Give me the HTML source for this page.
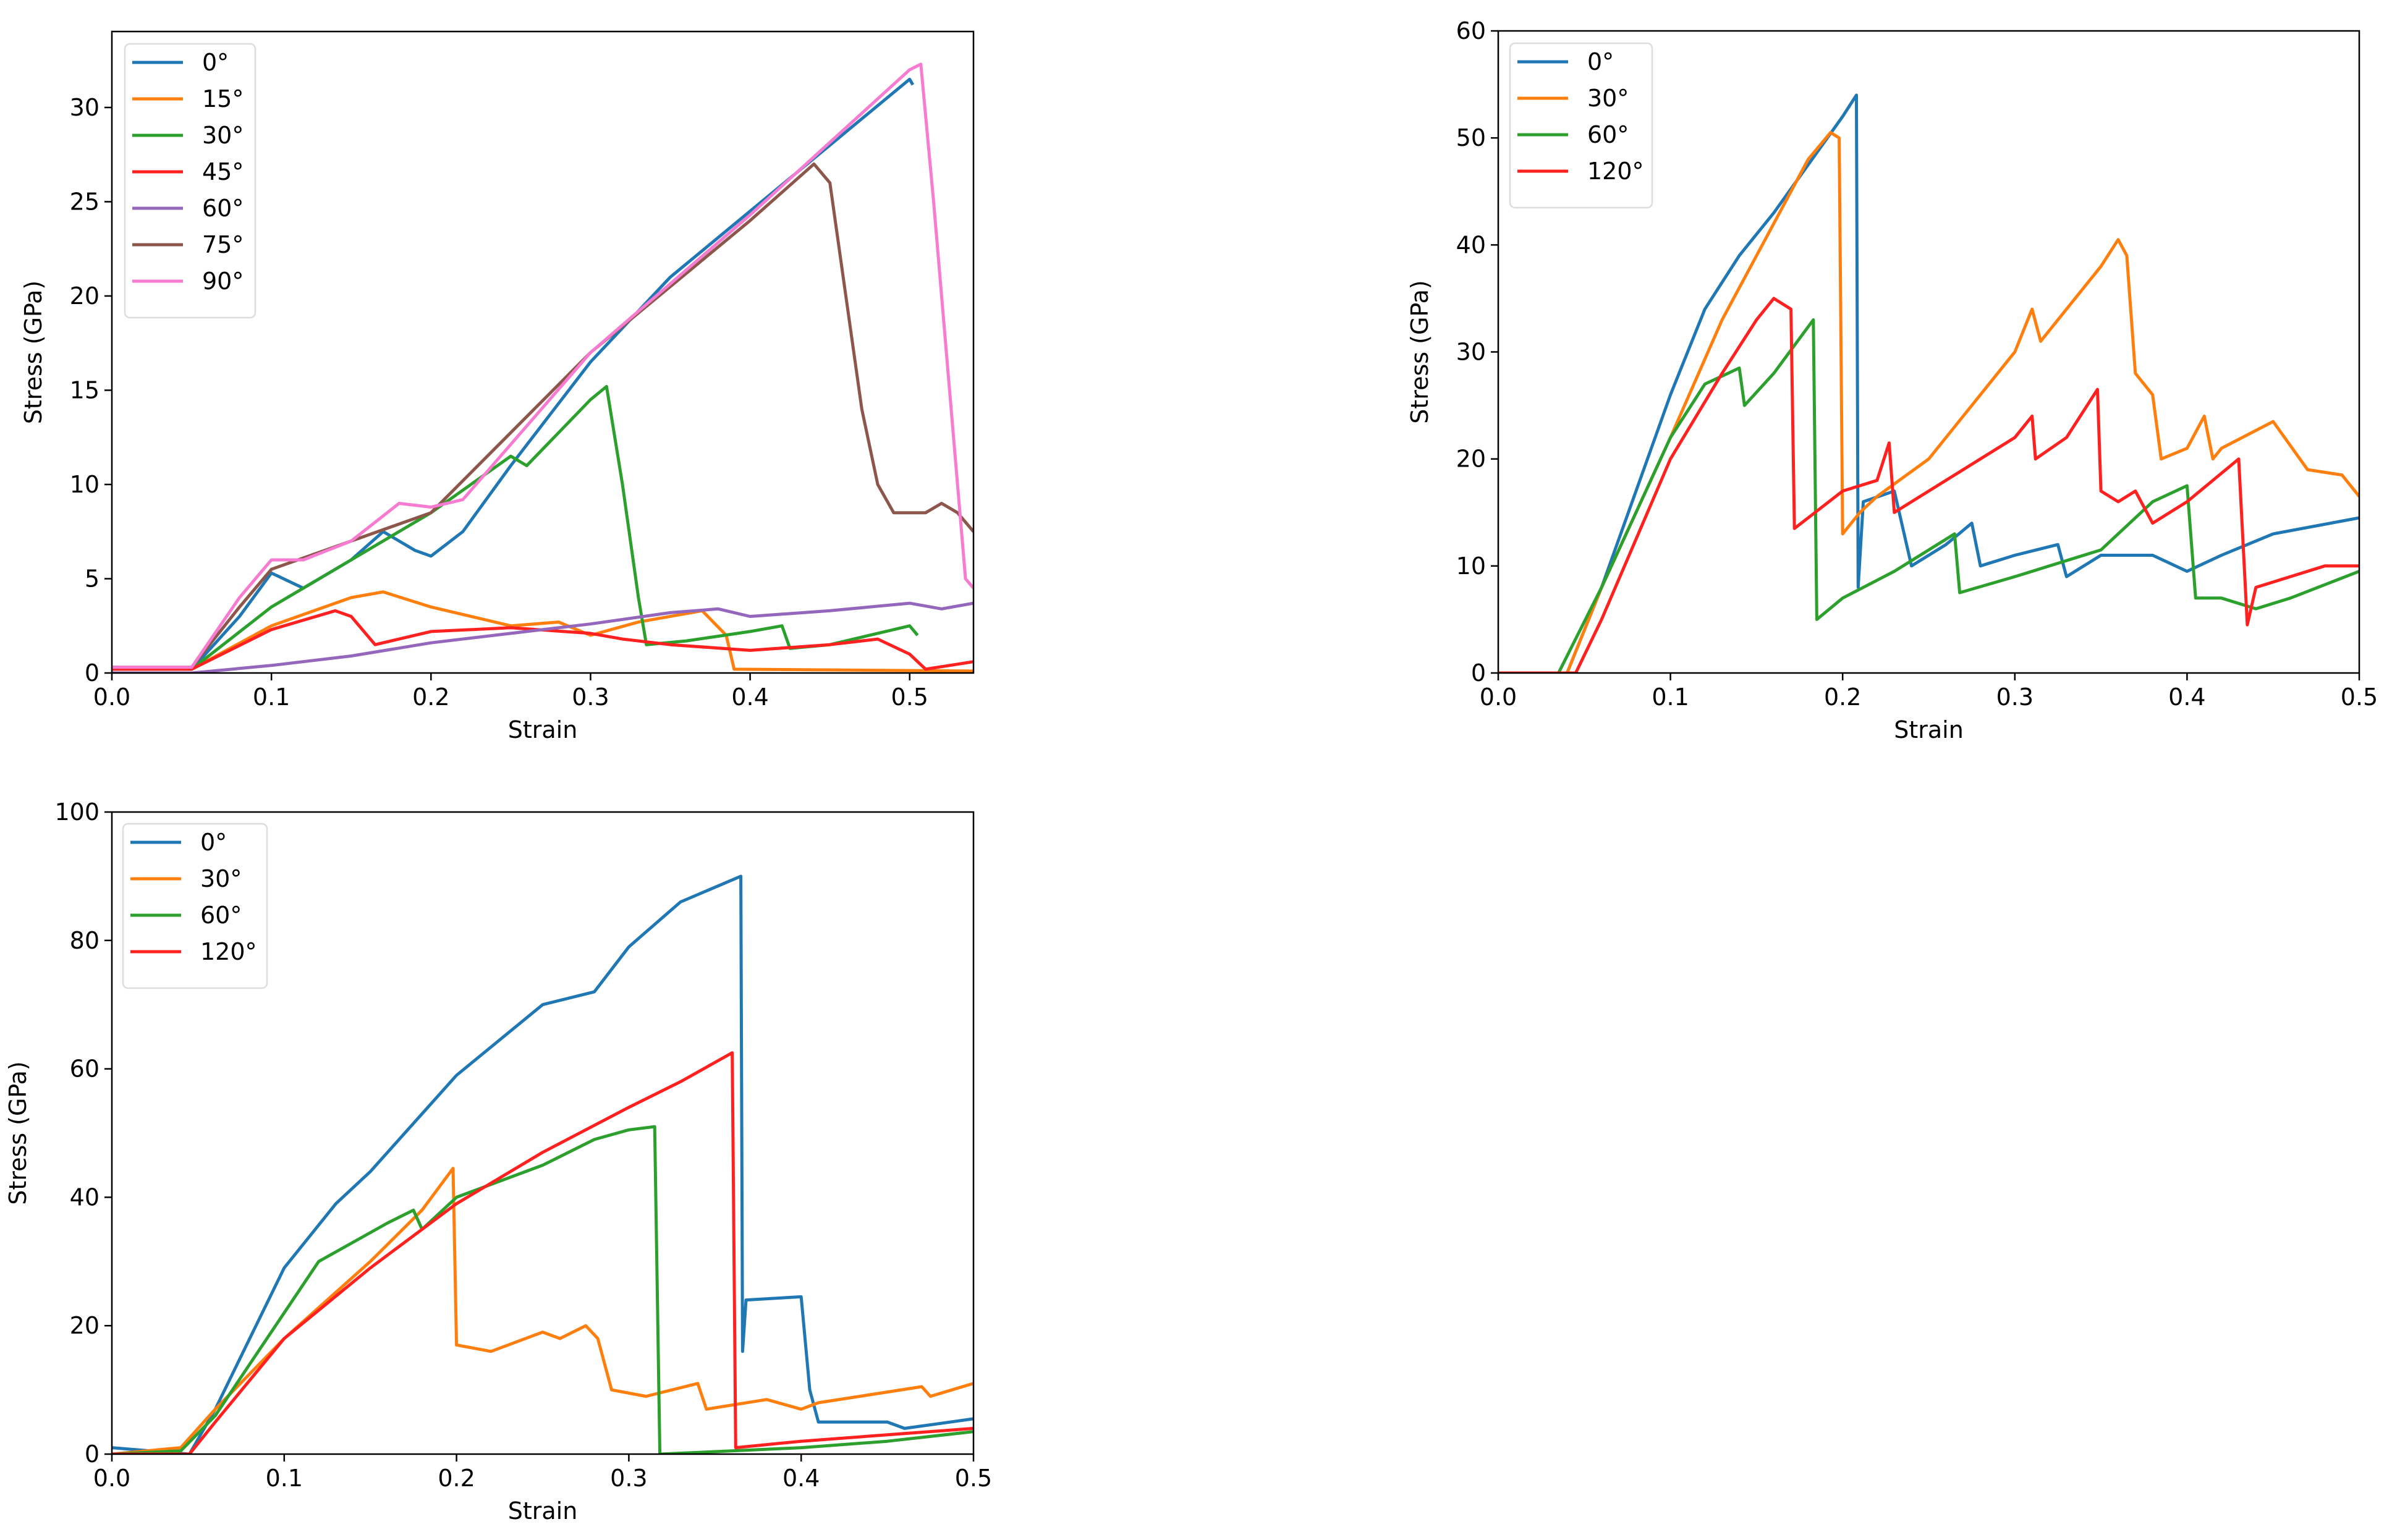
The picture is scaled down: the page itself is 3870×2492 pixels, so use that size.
<!DOCTYPE html>
<html><head><meta charset="utf-8"><style>
body{margin:0;background:#fff}
svg{display:block;font-family:"DejaVu Sans","Liberation Sans",sans-serif}
</style></head><body>
<svg id="fig" width="3870" height="2492" viewBox="0 0 3870 2492" xmlns="http://www.w3.org/2000/svg"></svg>
<script>
// ---- data: panel 1 ----
const p1Labels=["0°","15°","30°","45°","60°","75°","90°"];
const p1Colors=["#1f77b4","#ff7f0e","#2ca02c","#ff2020","#9467bd","#8c564b","#f77bd0"];
const p1_0=[[0,0.3],[0.05,0.2],[0.08,3],[0.1,5.3],[0.12,4.5],[0.15,6],[0.17,7.5],[0.19,6.5],[0.2,6.2],[0.22,7.5],[0.25,11],[0.3,16.5],[0.35,21],[0.4,24.5],[0.45,28],[0.5,31.5],[0.502,31.2]];
const p1_15=[[0,0.3],[0.05,0.2],[0.1,2.5],[0.15,4],[0.17,4.3],[0.2,3.5],[0.25,2.5],[0.28,2.7],[0.3,2],[0.33,2.7],[0.37,3.3],[0.385,2],[0.39,0.2],[0.54,0.1]];
const p1_30=[[0,0.2],[0.05,0.2],[0.1,3.5],[0.15,6],[0.2,8.5],[0.25,11.5],[0.26,11],[0.3,14.5],[0.31,15.2],[0.32,10],[0.33,4],[0.335,1.5],[0.36,1.7],[0.4,2.2],[0.42,2.5],[0.425,1.3],[0.45,1.5],[0.5,2.5],[0.505,2]];
const p1_45=[[0,0.2],[0.05,0.2],[0.1,2.3],[0.14,3.3],[0.15,3],[0.165,1.5],[0.2,2.2],[0.25,2.4],[0.3,2.1],[0.32,1.8],[0.35,1.5],[0.4,1.2],[0.45,1.5],[0.48,1.8],[0.5,1],[0.51,0.2],[0.54,0.6]];
const p1_60=[[0,0],[0.05,0],[0.1,0.4],[0.15,0.9],[0.2,1.6],[0.25,2.1],[0.3,2.6],[0.35,3.2],[0.38,3.4],[0.4,3.0],[0.45,3.3],[0.5,3.7],[0.52,3.4],[0.54,3.7]];
const p1_75=[[0,0.3],[0.05,0.3],[0.08,3.5],[0.1,5.5],[0.15,7],[0.2,8.5],[0.3,17],[0.4,24],[0.44,27],[0.45,26],[0.46,20],[0.47,14],[0.48,10],[0.49,8.5],[0.51,8.5],[0.52,9],[0.53,8.5],[0.54,7.5]];
const p1_90=[[0,0.3],[0.05,0.3],[0.08,4],[0.1,6],[0.12,6],[0.15,7],[0.18,9],[0.2,8.8],[0.22,9.2],[0.3,17],[0.4,24.3],[0.5,32],[0.507,32.3],[0.515,25],[0.525,15],[0.535,5],[0.54,4.5]];
const p1XTicks=[0,0.1,0.2,0.3,0.4,0.5];
const p1YTicks=[0,5,10,15,20,25,30];
// ---- data: panel 2 ----
const p2Labels=["0°","30°","60°","120°"];
const p2Colors=["#1f77b4","#ff7f0e","#2ca02c","#ff2020"];
const p2_0=[[0,0],[0.04,0],[0.06,8],[0.08,17],[0.1,26],[0.12,34],[0.14,39],[0.16,43],[0.18,47.5],[0.2,52],[0.208,54],[0.209,8],[0.212,16],[0.23,17],[0.24,10],[0.26,12],[0.275,14],[0.28,10],[0.3,11],[0.325,12],[0.33,9],[0.35,11],[0.38,11],[0.4,9.5],[0.42,11],[0.45,13],[0.5,14.5]];
const p2_30=[[0,0],[0.04,0],[0.06,8],[0.1,22],[0.13,33],[0.16,42],[0.18,48],[0.193,50.5],[0.198,50],[0.2,13],[0.21,15],[0.22,16.5],[0.25,20],[0.3,30],[0.31,34],[0.315,31],[0.35,38],[0.36,40.5],[0.365,39],[0.37,28],[0.38,26],[0.385,20],[0.4,21],[0.41,24],[0.415,20],[0.42,21],[0.45,23.5],[0.47,19],[0.49,18.5],[0.5,16.5]];
const p2_60=[[0,0],[0.035,0],[0.06,8],[0.1,22],[0.12,27],[0.14,28.5],[0.143,25],[0.16,28],[0.183,33],[0.185,5],[0.2,7],[0.23,9.5],[0.265,13],[0.268,7.5],[0.3,9],[0.35,11.5],[0.38,16],[0.4,17.5],[0.405,7],[0.42,7],[0.44,6],[0.46,7],[0.5,9.5]];
const p2_120=[[0,0],[0.045,0],[0.06,5],[0.1,20],[0.13,28],[0.15,33],[0.16,35],[0.17,34],[0.172,13.5],[0.2,17],[0.22,18],[0.227,21.5],[0.23,15],[0.26,18],[0.3,22],[0.31,24],[0.312,20],[0.33,22],[0.348,26.5],[0.35,17],[0.36,16],[0.37,17],[0.38,14],[0.4,16],[0.43,20],[0.435,4.5],[0.44,8],[0.46,9],[0.48,10],[0.5,10]];
const p2XTicks=[0,0.1,0.2,0.3,0.4,0.5];
const p2YTicks=[0,10,20,30,40,50,60];
// ---- data: panel 3 ----
const p3_0=[[0,1],[0.045,0],[0.06,7],[0.08,18],[0.1,29],[0.13,39],[0.15,44],[0.2,59],[0.25,70],[0.28,72],[0.3,79],[0.33,86],[0.365,90],[0.366,16],[0.368,24],[0.4,24.5],[0.405,10],[0.41,5],[0.45,5],[0.46,4],[0.5,5.5]];
const p3_30=[[0,0],[0.04,1],[0.06,7],[0.1,18],[0.15,30],[0.18,38],[0.198,44.5],[0.2,17],[0.22,16],[0.25,19],[0.26,18],[0.275,20],[0.282,18],[0.29,10],[0.31,9],[0.34,11],[0.345,7],[0.38,8.5],[0.4,7],[0.41,8],[0.47,10.5],[0.475,9],[0.5,11]];
const p3_60=[[0,0],[0.04,0.5],[0.06,6],[0.08,14],[0.1,22],[0.12,30],[0.16,36],[0.175,38],[0.18,35],[0.2,40],[0.25,45],[0.28,49],[0.3,50.5],[0.315,51],[0.318,0],[0.36,0.5],[0.4,1],[0.45,2],[0.5,3.5]];
const p3_120=[[0,0],[0.045,0],[0.06,5],[0.1,18],[0.15,29],[0.2,39],[0.25,47],[0.3,54],[0.33,58],[0.36,62.5],[0.362,1],[0.4,2],[0.45,3],[0.5,4]];
const p3XTicks=[0,0.1,0.2,0.3,0.4,0.5];
const p3YTicks=[0,20,40,60,80,100];

const NS="http://www.w3.org/2000/svg";
const fig=document.getElementById('fig');
function mk(tag,attrs,parent){const e=document.createElementNS(NS,tag);for(const k in attrs)e.setAttribute(k,attrs[k]);(parent||fig).appendChild(e);return e;}

function panel(id,L,R,T,B,xmax,ymax,xt,yt,series,labels,colors,leg,ylabX){
  const g=mk('g',{});
  
  
  const sx=v=>L+(v/xmax)*(R-L), sy=v=>B-(v/ymax)*(B-T);
  const fmtX=v=>v.toFixed(1);
  xt.forEach(v=>{
    const x=sx(v);
    mk('line',{x1:x,y1:B,x2:x,y2:B+12,stroke:'#000','stroke-width':2.5},g);
    const t=mk('text',{x:x,y:B+52,'font-size':38,'text-anchor':'middle',fill:'#000'},g);
    t.textContent=fmtX(v);
    
    
  });
  yt.forEach(v=>{
    const y=sy(v);
    mk('line',{x1:L-12,y1:y,x2:L,y2:y,stroke:'#000','stroke-width':2.5},g);
    const t=mk('text',{x:L-20,y:y+13,'font-size':38,'text-anchor':'end',fill:'#000'},g);
    t.textContent=String(v);
    
    
  });
  const clipId=id+'-clip';
  const cp=mk('clipPath',{id:clipId},g);mk('rect',{x:L,y:T,width:R-L,height:B-T},cp);
  series.forEach((s,i)=>{
    const p=mk('polyline',{points:s.map(d=>sx(d[0]).toFixed(1)+','+sy(d[1]).toFixed(1)).join(' '),fill:'none',stroke:colors[i],'stroke-width':5,'stroke-linejoin':'round','clip-path':'url(#'+clipId+')'},g);
    
    
  });
  mk('rect',{x:L,y:T,width:R-L,height:B-T,fill:'none',stroke:'#000','stroke-width':2.5},g);
  const xl=mk('text',{x:(L+R)/2,y:B+105,'font-size':38,'text-anchor':'middle'},g);
  xl.textContent='Strain';
  
  
  const yl=mk('text',{x:ylabX,y:(T+B)/2,'font-size':38,'text-anchor':'middle',transform:'rotate(-90 '+ylabX+' '+(T+B)/2+')'},g);
  yl.textContent='Stress (GPa)';
  
  
  // legend
  const lg=mk('g',{},g);
  
  
  mk('rect',{x:leg[0],y:leg[1],width:leg[2],height:30+labels.length*59,rx:8,fill:'#fff',stroke:'#ddd','stroke-width':2.5},lg);
  labels.forEach((lab,i)=>{
    const y=leg[1]+30+i*59;
    mk('line',{x1:leg[0]+12,y1:y,x2:leg[0]+94,y2:y,stroke:colors[i],'stroke-width':5},lg);
    const t=mk('text',{x:leg[0]+125,y:y+13,'font-size':38},lg);
    t.textContent=lab;
    
    
  });
}
panel('panel-1',181,1575,51,1089,0.54,34.03,p1XTicks,p1YTicks,[p1_0,p1_15,p1_30,p1_45,p1_60,p1_75,p1_90],p1Labels,p1Colors,[202,71,211],67);
panel('panel-2',2424,3817,50,1089,0.5,60,p2XTicks,p2YTicks,[p2_0,p2_30,p2_60,p2_120],p2Labels,p2Colors,[2443,70,230],2310);
panel('panel-3',181,1575,1314,2353,0.5,100,p3XTicks,p3YTicks,[p3_0,p3_30,p3_60,p3_120],p2Labels,p2Colors,[199,1333,233],42);
</script>
</body></html>
